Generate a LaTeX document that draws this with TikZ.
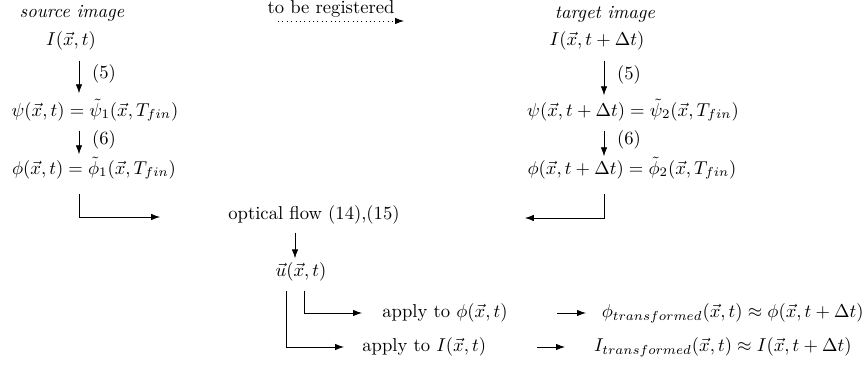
\documentclass[tikz,border=0pt]{standalone}
\usetikzlibrary{calc,arrows.meta}
\begin{document}
\begin{tikzpicture}[x=0.5587pt,y=-0.5587pt,
  lbl/.style={inner sep=0pt, anchor=center, scale=1.04},
  arr/.style={-{Latex[length=5pt,width=3.6pt]}, line width=0.45pt}]
\useasboundingbox (0,0) rectangle (866,366);
% source column
\node[lbl] (src) at (72,13) {\textit{source image}};
\node[lbl] (I1) at (71,41) {$I(\vec{x},t)$};
\node[lbl] (psi1) at (95,110) {$\psi(\vec{x},t)=\tilde{\psi}_1(\vec{x},T_{fin})$};
\node[lbl] (phi1) at (94,168) {$\phi(\vec{x},t)=\tilde{\phi}_1(\vec{x},T_{fin})$};
\node[lbl] (n5a) at (104,74) {(5)};
\node[lbl] (n6a) at (104,140) {(6)};
\coordinate (colL) at (79,0);
\draw[arr] ($(I1.south -| colL)+(0,10)$) -- ($(psi1.north -| colL)+(0,-5)$);
\draw[arr] ($(psi1.south -| colL)+(0,9)$) -- ($(phi1.north -| colL)+(0,-2)$);
% to be registered
\node[lbl] (reg) at (331,9) {to be registered};
\coordinate (regL) at (278,21);
\coordinate (regR) at (404,21);
\draw[arr, dotted] (regL) -- (regR);
% target column
\node[lbl] (tgt) at (605,14) {\textit{target image}};
\node[lbl] (I2) at (597,41) {$I(\vec{x},t+\Delta t)$};
\node[lbl] (psi2) at (633,110) {$\psi(\vec{x},t+\Delta t)=\tilde{\psi}_2(\vec{x},T_{fin})$};
\node[lbl] (phi2) at (632,168) {$\phi(\vec{x},t+\Delta t)=\tilde{\phi}_2(\vec{x},T_{fin})$};
\node[lbl] (n5b) at (629,75) {(5)};
\node[lbl] (n6b) at (629,140) {(6)};
\coordinate (colR) at (604,0);
\draw[arr] ($(I2.south -| colR)+(0,10)$) -- ($(psi2.north -| colR)+(0,-3)$);
\draw[arr] ($(psi2.south -| colR)+(0,9)$) -- ($(phi2.north -| colR)+(0,0)$);
% optical flow
\node[lbl] (flow) at (314,215) {optical flow (14),(15)};
\draw[arr] ($(phi1.south -| colL)+(0,14)$) |- ($(flow.west)+(-68,2)$);
\draw[arr] ($(phi2.south -| colR)+(0,14)$) |- ($(flow.east)+(125,3)$);
\node[lbl] (u) at (301,272) {$\vec{u}(\vec{x},t)$};
\coordinate (colU) at (295,0);
\draw[arr] ($(flow.south -| colU)+(0,8)$) -- ($(u.north -| colU)+(0,-4)$);
% apply rows
\node[lbl, anchor=west] (ap1) at (382,313) {apply to $\phi(\vec{x},t)$};
\node[lbl, anchor=east] (res1) at (864,313) {$\phi_{transformed}(\vec{x},t)\approx\phi(\vec{x},t+\Delta t)$};
\node[lbl, anchor=west] (ap2) at (362,347) {apply to $I(\vec{x},t)$};
\node[lbl, anchor=east] (res2) at (852,347) {$I_{transformed}(\vec{x},t)\approx I(\vec{x},t+\Delta t)$};
\coordinate (colU1) at (304,0);
\coordinate (colU2) at (286,0);
\draw[arr] ($(u.south -| colU1)+(0,9)$) |- ($(ap1.west)+(-20,0)$);
\draw[arr] ($(u.south -| colU2)+(0,9)$) |- ($(ap2.west)+(-18,0)$);
\draw[arr] ($(ap1.west)+(175,0)$) -- ($(ap1.west)+(204,0)$);
\draw[arr] ($(ap2.west)+(175,0)$) -- ($(ap2.west)+(203,0)$);
\end{tikzpicture}
\end{document}
